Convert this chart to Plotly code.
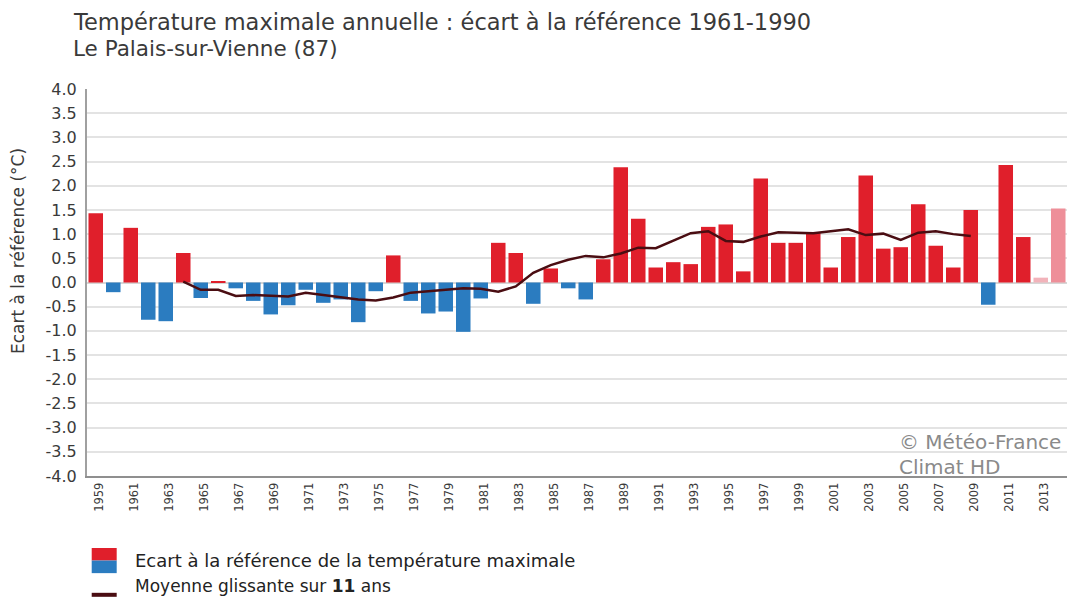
import plotly.graph_objects as go

# data
years = list(range(1959, 2015))
ecart = [1.43, -0.20, 1.13, -0.77, -0.80, 0.61, -0.32, 0.03, -0.12, -0.38,
         -0.66, -0.47, -0.15, -0.42, -0.35, -0.82, -0.18, 0.56, -0.38, -0.64,
         -0.60, -1.02, -0.33, 0.82, 0.61, -0.44, 0.29, -0.12, -0.35, 0.48,
         2.38, 1.32, 0.31, 0.42, 0.38, 1.15, 1.20, 0.23, 2.15, 0.82,
         0.82, 1.03, 0.31, 0.94, 2.21, 0.70, 0.73, 1.62, 0.76, 0.31,
         1.50, -0.46, 2.43, 0.94, 0.10, 1.53]
provisional = {2013: "#f2b3ba", 2014: "#ee8f99"}

ma_years = list(range(1964, 2010))
moyenne = [0.02, -0.15, -0.15, -0.28, -0.26, -0.27, -0.29, -0.21, -0.26, -0.31,
           -0.35, -0.37, -0.31, -0.21, -0.18, -0.15, -0.12, -0.13, -0.19, -0.08,
           0.20, 0.36, 0.47, 0.55, 0.52, 0.60, 0.72, 0.71, 0.87, 1.02,
           1.06, 0.86, 0.84, 0.95, 1.04, 1.03, 1.02, 1.06, 1.10, 0.98,
           1.01, 0.88, 1.03, 1.06, 1.00, 0.96]

tick_years = list(range(1959, 2014, 2))
y_ticks = [v / 2 for v in range(-8, 9)]

RED = "#e01f2b"
BLUE = "#2b7cc0"
LINE = "#4a0d12"
FONT = "DejaVu Sans"
TXT = "#3a3a3a"

colors = []
for y, v in zip(years, ecart):
    if y in provisional:
        colors.append(provisional[y])
    else:
        colors.append(RED if v >= 0 else BLUE)

fig = go.Figure()

fig.add_trace(go.Bar(
    x=years, y=ecart,
    marker=dict(color=colors, line=dict(width=0)),
    showlegend=False,
    hoverinfo="x+y",
))

fig.add_trace(go.Scatter(
    x=ma_years, y=moyenne,
    mode="lines",
    line=dict(color=LINE, width=2.5),
    showlegend=False,
))

fig.update_layout(
    width=1070, height=597,
    margin=dict(l=87, r=3, t=89, b=121),
    paper_bgcolor="white",
    plot_bgcolor="white",
    bargap=0.17,
    font=dict(family=FONT, color=TXT),
)

fig.update_xaxes(
    range=[1958.5, 2014.5],
    tickmode="array",
    tickvals=tick_years,
    ticktext=[str(t) for t in tick_years],
    tickangle=-90,
    tickfont=dict(size=11.5, color=TXT),
    ticklabelshift=4,
    showgrid=False,
    zeroline=False,
    showline=True, linecolor="#8f8f8f", linewidth=2,
    ticks="",
)

fig.update_yaxes(
    range=[-4.0, 4.0],
    tickmode="array",
    tickvals=y_ticks,
    ticktext=[f"{v:.1f}" for v in y_ticks],
    tickfont=dict(size=16, color=TXT),
    showgrid=True, gridcolor="#e3e3e3", gridwidth=1.5,
    zeroline=True, zerolinecolor="#d6d6d6", zerolinewidth=1.5,
    showline=True, linecolor="#a0a0a0", linewidth=2,
    ticks="",
    ticklabelstandoff=5,
)

# titles
fig.add_annotation(
    text="Température maximale annuelle : écart à la référence 1961-1990",
    xref="paper", yref="paper", x=-0.0168, y=1.173,
    xanchor="left", yanchor="middle",
    showarrow=False, font=dict(size=22.5, color=TXT, family=FONT),
)
fig.add_annotation(
    text="Le Palais-sur-Vienne (87)",
    xref="paper", yref="paper", x=-0.0168, y=1.104,
    xanchor="left", yanchor="middle",
    showarrow=False, font=dict(size=21.5, color=TXT, family=FONT),
)

# y axis title
fig.add_annotation(
    text="Ecart à la référence (°C)",
    xref="paper", yref="y", x=-0.0704, y=0.65,
    xanchor="center", yanchor="middle", textangle=-90,
    showarrow=False, font=dict(size=17, color=TXT, family=FONT),
)

# watermark
fig.add_annotation(
    text="© Météo-France",
    xref="paper", yref="y", x=0.827, y=-3.30,
    xanchor="left", yanchor="middle",
    showarrow=False, font=dict(size=20, color="#8a8a8a", family=FONT),
)
fig.add_annotation(
    text="Climat HD",
    xref="paper", yref="y", x=0.827, y=-3.81,
    xanchor="left", yanchor="middle",
    showarrow=False, font=dict(size=20, color="#8a8a8a", family=FONT),
)

# custom legend
fig.add_shape(type="rect", xref="paper", yref="paper",
              x0=0.0048, x1=0.0303, y0=-0.2184, y1=-0.186,
              fillcolor=RED, line=dict(width=0))
fig.add_shape(type="rect", xref="paper", yref="paper",
              x0=0.0048, x1=0.0303, y0=-0.251, y1=-0.2184,
              fillcolor=BLUE, line=dict(width=0))
fig.add_annotation(
    text="Ecart à la référence de la température maximale",
    xref="paper", yref="paper", x=0.0469, y=-0.2196,
    xanchor="left", yanchor="middle",
    showarrow=False, font=dict(size=18, color="#222222", family=FONT),
)
fig.add_shape(type="line", xref="paper", yref="paper",
              x0=0.0048, x1=0.0303, y0=-0.307, y1=-0.307,
              line=dict(color=LINE, width=4))
fig.add_annotation(
    text="Moyenne glissante sur <b>11</b> ans",
    xref="paper", yref="paper", x=0.0469, y=-0.2842,
    xanchor="left", yanchor="middle",
    showarrow=False, font=dict(size=17, color="#222222", family=FONT),
)

fig.write_html("out.html", config={"displayModeBar": False},
               post_script="document.body.style.margin='0';")
